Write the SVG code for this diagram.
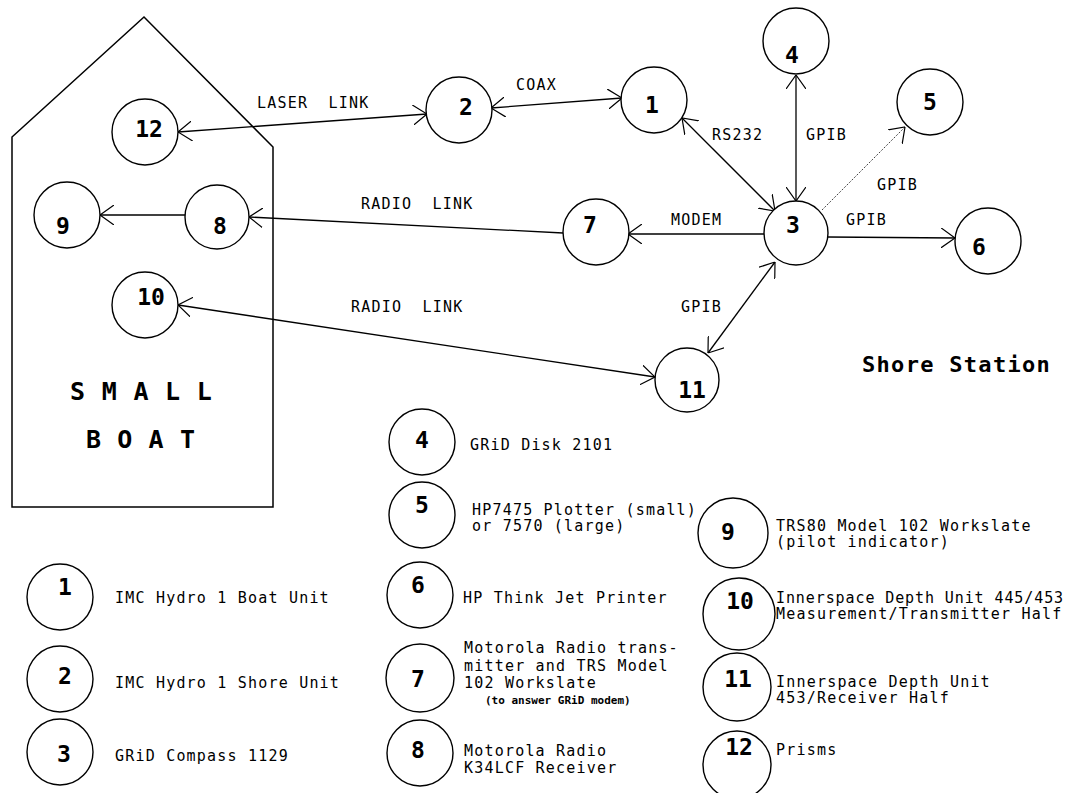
<svg xmlns="http://www.w3.org/2000/svg" width="1070" height="793" viewBox="0 0 1070 793">
<style>
  .c { fill: #fff; stroke: #000; stroke-width: 1.4; }
  .n { font-family: "DejaVu Sans Mono", "Liberation Mono", monospace; font-weight: bold; font-size: 23px; text-anchor: middle; dominant-baseline: central; fill: #000; }
  .t { font-family: "DejaVu Sans Mono", "Liberation Mono", monospace; font-size: 15px; letter-spacing: 1.2px; fill: #000; }
  .s { font-family: "DejaVu Sans Mono", "Liberation Mono", monospace; font-size: 11px; font-weight: bold; fill: #000; }
  .big { font-family: "DejaVu Sans Mono", "Liberation Mono", monospace; font-weight: bold; font-size: 25px; fill: #000; }
  .ss { font-family: "DejaVu Sans Mono", "Liberation Mono", monospace; font-weight: bold; font-size: 22px; letter-spacing: 1.3px; fill: #000; }
  .e { fill: none; stroke: #000; stroke-width: 1.3; }
  .d { fill: none; stroke: #444; stroke-width: 1; stroke-dasharray: 2 1.5; }
</style>
<defs>
  <marker id="ah" viewBox="0 0 14 20" refX="14" refY="10" markerWidth="14" markerHeight="20" markerUnits="userSpaceOnUse" orient="auto-start-reverse">
    <path d="M0,0 L14,10 L0,20" fill="none" stroke="#000" stroke-width="1.2"/>
  </marker>
</defs>
<rect width="1070" height="793" fill="#fff"/>

<g id="boat">
  <polygon points="12,137 144,17 273,147 273,507 12,507" fill="none" stroke="#000" stroke-width="1.5"/>
  <text class="big" x="70" y="400" letter-spacing="0.8">S M A L L</text>
  <text class="big" x="86" y="448" letter-spacing="0.6">B O A T</text>
</g>

<g id="connectors">
  <line class="e" x1="178" y1="132" x2="427" y2="114" marker-start="url(#ah)" marker-end="url(#ah)"/>
  <line class="e" x1="491" y1="108" x2="622" y2="98" marker-start="url(#ah)" marker-end="url(#ah)"/>
  <line class="e" x1="682" y1="118" x2="775" y2="211" marker-start="url(#ah)" marker-end="url(#ah)"/>
  <line class="e" x1="796" y1="75" x2="796" y2="201" marker-start="url(#ah)" marker-end="url(#ah)"/>
  <line class="d" x1="822" y1="210" x2="905" y2="127" marker-end="url(#ah)"/>
  <line class="e" x1="828" y1="237" x2="955" y2="238" marker-end="url(#ah)"/>
  <line class="e" x1="764" y1="234" x2="628" y2="234" marker-end="url(#ah)"/>
  <line class="e" x1="563" y1="233" x2="249" y2="217" marker-end="url(#ah)"/>
  <line class="e" x1="185" y1="215" x2="100" y2="215" marker-end="url(#ah)"/>
  <line class="e" x1="178" y1="305" x2="655" y2="377" marker-start="url(#ah)" marker-end="url(#ah)"/>
  <line class="e" x1="775" y1="262" x2="708" y2="353" marker-start="url(#ah)" marker-end="url(#ah)"/>
</g>

<g id="edge-labels">
  <text class="t" x="257" y="108" xml:space="preserve">LASER  LINK</text>
  <text class="t" x="516" y="90">COAX</text>
  <text class="t" x="712" y="140">RS232</text>
  <text class="t" x="806" y="140">GPIB</text>
  <text class="t" x="877" y="190">GPIB</text>
  <text class="t" x="846" y="225">GPIB</text>
  <text class="t" x="671" y="225">MODEM</text>
  <text class="t" x="361" y="209" xml:space="preserve">RADIO  LINK</text>
  <text class="t" x="351" y="312" xml:space="preserve">RADIO  LINK</text>
  <text class="t" x="681" y="312">GPIB</text>
</g>

<g id="node-12"><circle class="c" cx="145" cy="132" r="33"/><text class="n" x="149" y="129">12</text></g>
<g id="node-9"><circle class="c" cx="67" cy="215" r="33"/><text class="n" x="63" y="226">9</text></g>
<g id="node-8"><circle class="c" cx="217" cy="217" r="32"/><text class="n" x="220" y="226">8</text></g>
<g id="node-10"><circle class="c" cx="145" cy="305" r="33"/><text class="n" x="151" y="297">10</text></g>
<g id="node-2"><circle class="c" cx="459" cy="110" r="33"/><text class="n" x="466" y="107">2</text></g>
<g id="node-1"><circle class="c" cx="654" cy="100" r="33"/><text class="n" x="652" y="105">1</text></g>
<g id="node-7"><circle class="c" cx="596" cy="232" r="33"/><text class="n" x="590" y="225">7</text></g>
<g id="node-4"><circle class="c" cx="796" cy="41" r="33"/><text class="n" x="792" y="55">4</text></g>
<g id="node-5"><circle class="c" cx="930" cy="102" r="33"/><text class="n" x="930" y="102">5</text></g>
<g id="node-3"><circle class="c" cx="796" cy="233" r="32"/><text class="n" x="793" y="225">3</text></g>
<g id="node-6"><circle class="c" cx="988" cy="241" r="33"/><text class="n" x="979" y="247">6</text></g>
<g id="node-11"><circle class="c" cx="687" cy="380" r="32"/><text class="n" x="692" y="390">11</text></g>

<g id="shore-station"><text class="ss" x="862" y="372">Shore Station</text></g>

<g id="legend-1"><circle class="c" cx="60" cy="597" r="33"/><text class="n" x="65" y="587">1</text><text class="t" x="115" y="603">IMC Hydro 1 Boat Unit</text></g>
<g id="legend-2"><circle class="c" cx="60" cy="679" r="33"/><text class="n" x="65" y="676">2</text><text class="t" x="115" y="688">IMC Hydro 1 Shore Unit</text></g>
<g id="legend-3"><circle class="c" cx="60" cy="752" r="33"/><text class="n" x="64" y="754">3</text><text class="t" x="115" y="761">GRiD Compass 1129</text></g>
<g id="legend-4"><circle class="c" cx="422" cy="442" r="33"/><text class="n" x="422" y="440">4</text><text class="t" x="470" y="450">GRiD Disk 2101</text></g>
<g id="legend-5"><circle class="c" cx="422" cy="515" r="33"/><text class="n" x="422" y="505">5</text><text class="t" x="472" y="515">HP7475 Plotter (small)</text><text class="t" x="472" y="531">or 7570 (large)</text></g>
<g id="legend-6"><circle class="c" cx="420" cy="595" r="33"/><text class="n" x="418" y="585">6</text><text class="t" x="463" y="603">HP Think Jet Printer</text></g>
<g id="legend-7"><circle class="c" cx="420" cy="678" r="34"/><text class="n" x="418" y="679">7</text><text class="t" x="464" y="653">Motorola Radio trans-</text><text class="t" x="464" y="671">mitter and TRS Model</text><text class="t" x="464" y="688">102 Workslate</text><text class="s" x="485" y="704">(to answer GRiD modem)</text></g>
<g id="legend-8"><circle class="c" cx="420" cy="753" r="33"/><text class="n" x="418" y="750">8</text><text class="t" x="464" y="756">Motorola Radio</text><text class="t" x="464" y="773">K34LCF Receiver</text></g>
<g id="legend-9"><circle class="c" cx="733" cy="533" r="35"/><text class="n" x="728" y="532">9</text><text class="t" x="776" y="531">TRS80 Model 102 Workslate</text><text class="t" x="776" y="547">(pilot indicator)</text></g>
<g id="legend-10"><circle class="c" cx="739" cy="614" r="36"/><text class="n" x="740" y="601">10</text><text class="t" x="776" y="603" style="letter-spacing:0.9px">Innerspace Depth Unit 445/453</text><text class="t" x="776" y="619">Measurement/Transmitter Half</text></g>
<g id="legend-11"><circle class="c" cx="737" cy="687" r="34"/><text class="n" x="738" y="679">11</text><text class="t" x="776" y="687">Innerspace Depth Unit</text><text class="t" x="776" y="703">453/Receiver Half</text></g>
<g id="legend-12"><circle class="c" cx="737" cy="765" r="34"/><text class="n" x="739" y="747">12</text><text class="t" x="776" y="755">Prisms</text></g>
</svg>
